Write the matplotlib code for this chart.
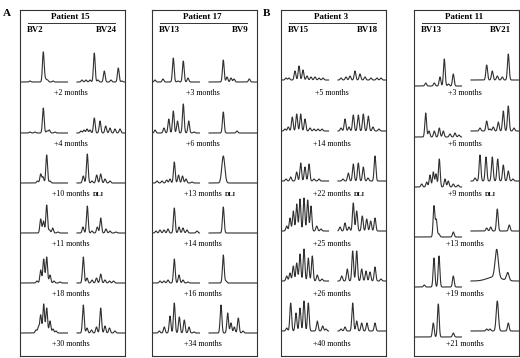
import numpy as np
import matplotlib.pyplot as plt

plt.rcParams['font.family'] = ['Liberation Serif', 'DejaVu Serif']

# spectratype peaks per time point: (position, height[, width]) in panel pixels
p15_bv2 = [
    [(10, 1), (23.3, 30), (25.5, 3), (27.5, 2), (33, 1)],
    [(10, 1), (15, 1), (23.3, 25), (27, 2), (29.3, 3), (35, 1)],
    [(17.5, 2), (20.7, 9), (23, 6), (26.7, 28), (30, 2)],
    [(20.7, 14), (23.5, 12), (26.7, 28), (29.5, 3), (32.7, 5), (38, 1)],
    [(17, 2), (20.7, 13), (23.7, 24), (26.7, 26), (30, 8), (34, 2), (40, 1)],
    [(16, 3), (18.5, 6), (20.7, 18), (23.7, 29), (26.7, 25), (30, 12), (33, 4), (36, 2)],
]
p15_bv24 = [
    [(62, 2), (66, 2), (70, 2), (74.3, 29), (78, 2), (84.3, 11), (91, 2), (98.3, 14), (102, 1)],
    [(61, 2), (64, 3), (67, 4), (70, 3), (74.3, 15), (80, 12), (85.7, 7), (90, 5), (95, 4), (100, 4)],
    [(63.3, 7), (67.3, 29), (72, 2), (76.7, 8), (80.7, 9), (85, 4), (90, 2)],
    [(63, 6), (67.3, 27), (72, 2), (77.3, 6), (80.7, 15), (86, 4), (90, 2), (96, 1)],
    [(63.3, 26), (67, 5), (72, 3), (76.5, 5), (80.7, 9), (85, 3), (89.5, 2), (93.5, 2)],
    [(63.3, 28), (67, 5), (71.5, 3), (76.5, 6), (80.7, 25), (85, 7), (89.5, 5), (95, 2)],
]
p17_bv13 = [
    [(3, 2), (11, 3), (21.3, 24), (26, 1), (31.3, 21), (36, 4)],
    [(3, 3), (12, 5), (16.8, 14), (21.3, 22), (25.5, 12), (31.3, 29), (36.7, 12), (42, 1)],
    [(5, 2), (10, 2), (14.7, 3), (18, 4), (22.3, 21), (26.5, 8), (30.5, 7), (34, 4), (40, 1)],
    [(4, 2), (8, 3), (12, 3), (16, 4), (22.3, 25), (27, 6), (31, 5), (35, 3), (45, 2)],
    [(8, 2), (12, 2), (16, 3), (22.3, 24), (27, 8), (31, 3), (36, 1)],
    [(7.3, 2), (12.3, 6), (18, 17), (22.3, 30), (27.3, 16), (32.3, 13), (37, 6), (42, 1)],
]
p17_bv9 = [
    [(71.3, 22), (75, 5), (79, 4), (82, 3), (97.3, 3)],
    [(71.3, 21), (85, 2)],
    [(71.3, 27, 1.5)],
    [(71.3, 26)],
    [(71.3, 28), (74, 2)],
    [(69, 28), (75.7, 20), (79, 10), (82.3, 6), (86.3, 15), (91, 2)],
]
p3_bv15 = [
    [(5, 2), (8, 2), (14, 9), (18, 14), (22, 10), (26, 4), (30, 3), (34, 3), (38, 2), (42, 2)],
    [(4, 2), (7.3, 4), (11.3, 14), (15.7, 17), (19.7, 17), (24, 12), (29, 3), (33, 2), (37, 2), (41, 2)],
    [(5, 2), (9.7, 4), (15.7, 9), (19.7, 18), (24, 14), (28, 17), (33, 2), (38, 2)],
    [(5.7, 5), (9, 13), (12.3, 20), (15.7, 27), (19, 32), (23, 33), (26.7, 31), (30, 25), (35.7, 5), (40, 2)],
    [(5.7, 5), (9, 8), (12.3, 15), (15.7, 18), (19, 27), (23, 32), (27.3, 23), (31.3, 25), (36.3, 6), (41, 2)],
    [(5.7, 3), (9.7, 28), (15, 18), (19, 23), (23, 30), (27.3, 28), (36.3, 10), (41.7, 5), (45, 2)],
]
p3_bv18 = [
    [(60, 2), (65, 3), (69, 4), (74, 9), (79, 6), (84, 3), (90, 2), (96, 2), (100, 2)],
    [(60, 3), (64, 12), (68, 4), (72.3, 16), (77.3, 16), (82.3, 17), (87.3, 15), (92, 4), (98, 2)],
    [(62, 2), (67.3, 8), (72.3, 17), (77.3, 18), (82.3, 14), (87, 3), (94, 25)],
    [(59, 4), (64, 8), (68, 4), (72.3, 28), (75.7, 20), (81.3, 15), (85.7, 12), (89.7, 10), (94, 13)],
    [(60.7, 5), (66.3, 12), (71.7, 30), (75.7, 30), (80.7, 12), (85, 10), (89, 9), (94, 14), (100, 2)],
    [(60, 2), (64, 4), (71.7, 28), (75.7, 10), (80.7, 8), (86, 8), (94, 8)],
]
p11_bv13 = [
    [(11.7, 3), (20.3, 3), (26, 9), (30.3, 27), (34.5, 2), (39.3, 12)],
    [(11.7, 24), (15, 6), (20.3, 6), (25.3, 9), (29.3, 6), (36, 3), (41, 4), (45, 2)],
    [(7.7, 3), (12.7, 5), (16, 12), (19.3, 15), (22, 13), (25.3, 28), (31, 8), (34.3, 6), (39.3, 3), (44, 2)],
    [(20, 31), (22.3, 17), (25, 3), (39.3, 5)],
    [(10.3, 2), (20, 29), (25, 31), (39.3, 11)],
    [(19.3, 14), (24.3, 33), (39.3, 4)],
]
p11_bv21 = [
    [(72.7, 15), (78.3, 9), (83.3, 4), (88.3, 3), (94.3, 26)],
    [(66, 3), (72.7, 10), (76, 2), (79.3, 4), (84.3, 9), (89.3, 20), (94.3, 25), (100, 3)],
    [(61, 3), (66, 26), (72, 24), (78.3, 24), (83.7, 22), (89.3, 16), (94.3, 10), (99, 2)],
    [(72.7, 3), (76.7, 4), (83.3, 22), (95.3, 6)],
    [(80, 4, 7), (82.7, 28, 1.6), (93.7, 8, 1.3)],
    [(72.7, 2), (76, 2), (83.3, 30, 1.1), (94.3, 8)],
]

months_p15 = ['+2 months', '+4 months', '+10 months', '+11 months', '+18 months', '+30 months']
months_p17 = ['+3 months', '+6 months', '+13 months', '+14 months', '+16 months', '+34 months']
months_p3 = ['+5 months', '+14 months', '+22 months', '+25 months', '+26 months', '+40 months']
months_p11 = ['+3 months', '+6 months', '+9 months', '+13 months', '+19 months', '+21 months']
dli_row = 2

panels = [
    ('Patient 15', 'BV2', 'BV24', p15_bv2, p15_bv24, months_p15, 20, 0, 0),
    ('Patient 17', 'BV13', 'BV9', p17_bv13, p17_bv9, months_p17, 152, 0, 0),
    ('Patient 3', 'BV15', 'BV18', p3_bv15, p3_bv18, months_p3, 281, -2, -2),
    ('Patient 11', 'BV13', 'BV21', p11_bv13, p11_bv21, months_p11, 414, 4, -2),
]
row_base = [72, 123, 173, 223, 273, 323]


def draw_trace(ax, peaks, x0, x1, base):
    x = np.linspace(x0, x1, 800)
    y = np.zeros_like(x)
    for pk in peaks:
        w = pk[2] if len(pk) > 2 else 0.85
        y += pk[1] * np.exp(-0.5 * ((x - pk[0]) / w) ** 2)
    ax.plot(x, base - y, color='#303030', lw=0.8, solid_joinstyle='round')


fig = plt.figure(figsize=(5.2, 3.58), dpi=100)
W, H = 520, 358

for title, lab_l, lab_r, left, right, months, px, sh_l, sh_r in panels:
    ax = fig.add_axes([px / W, 2 / H, 105 / W, 346 / H])
    ax.set_xlim(0, 105)
    ax.set_ylim(346, 0)
    ax.set_xticks([])
    ax.set_yticks([])
    for sp in ax.spines.values():
        sp.set_linewidth(0.8)
        sp.set_color('#333333')

    ax.text(50, 7, title, ha='center', va='center', fontsize=6.5, fontweight='bold')
    ax.plot([8, 95], [12.7, 12.7], color='#333333', lw=0.7)
    ax.text(7, 20.5, lab_l, ha='left', va='center', fontsize=6.3, fontweight='bold')
    ax.text(97, 20.5, lab_r, ha='right', va='center', fontsize=6.3, fontweight='bold')

    for i in range(6):
        base = row_base[i]
        draw_trace(ax, left[i], 0, 47.5, base + sh_l)
        draw_trace(ax, right[i], 57, 105, base + sh_r)
        t = ax.text(51, base + 11.5, months[i], ha='center', va='center', fontsize=5.8)
        if i == dli_row:
            ax.annotate('DLI', xy=(1, 0.5), xycoords=t, xytext=(2, 0),
                        textcoords='offset points', ha='left', va='center',
                        fontsize=4.6, fontweight='bold')

fig.text(3 / W, 1 - 13 / H, 'A', fontsize=8, fontweight='bold', va='center', ha='left')
fig.text(263 / W, 1 - 13 / H, 'B', fontsize=8, fontweight='bold', va='center', ha='left')

fig.savefig('out.png', dpi=100)
